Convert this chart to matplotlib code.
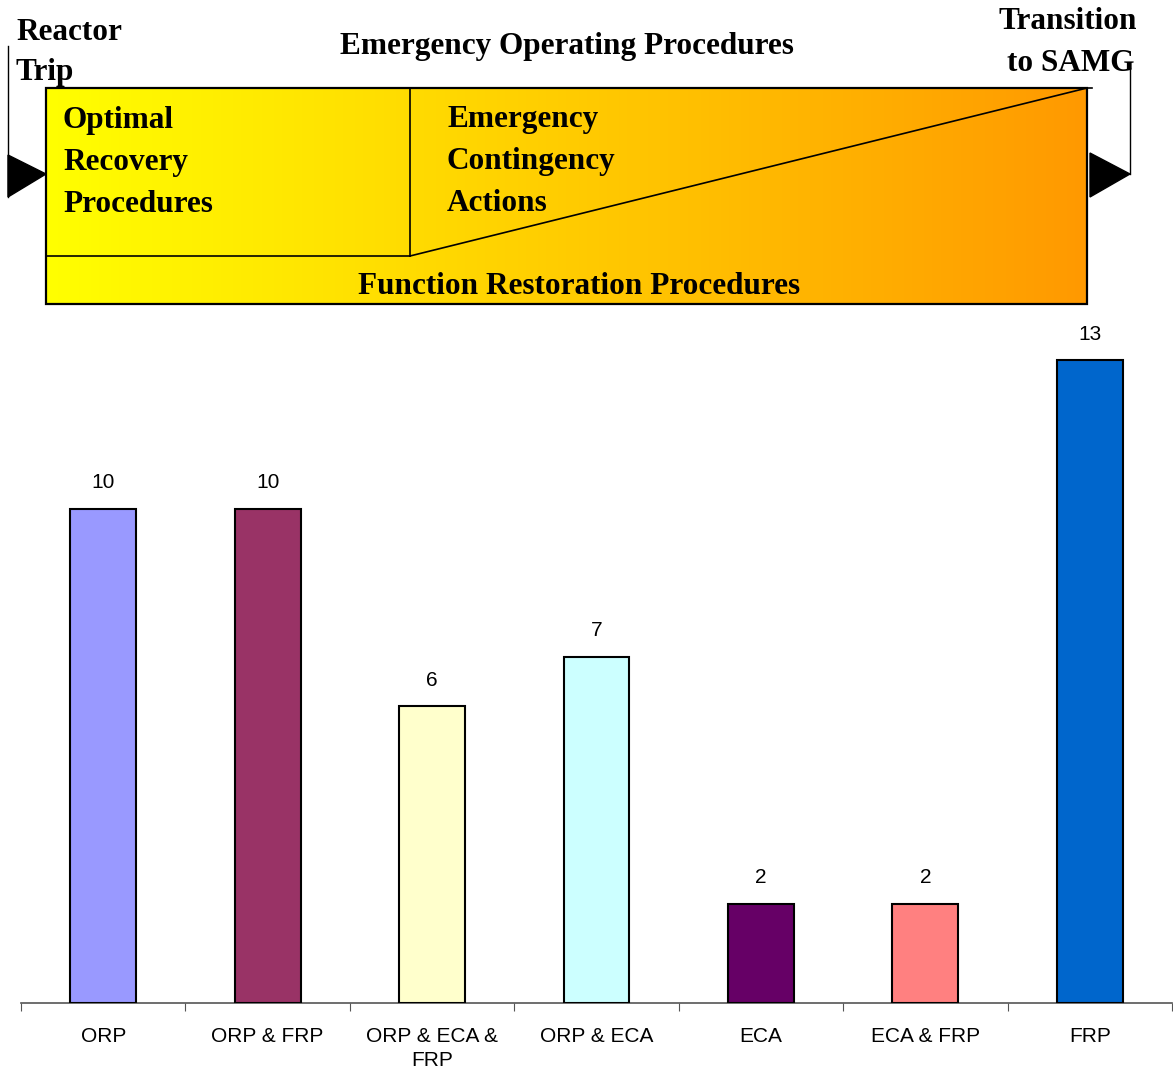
import numpy as np
import matplotlib
matplotlib.use("Agg")
import matplotlib.pyplot as plt
from matplotlib.patches import Rectangle, Polygon
from matplotlib.colors import LinearSegmentedColormap

# procedure groups and counts
categories = ["ORP", "ORP & FRP", "ORP & ECA &\nFRP", "ORP & ECA", "ECA", "ECA & FRP", "FRP"]
counts = [10, 10, 6, 7, 2, 2, 13]
bar_colors = ["#9999FF", "#993366", "#FFFFCC", "#CCFFFF", "#660066", "#FF8080", "#0066CC"]

W, H = 1173, 1077
fig = plt.figure(figsize=(W / 100, H / 100), dpi=100)

# ---------------- diagram on top (pixel coords) ----------------
top = fig.add_axes([0, 0, 1, 1])
top.set_xlim(0, W)
top.set_ylim(H, 0)
top.axis("off")

bx0, bx1, by0, by1 = 46, 1087, 88, 304
grad = LinearSegmentedColormap.from_list("yo", ["#FFFF00", "#FF9900"])
img = top.imshow(np.linspace(0, 1, 256).reshape(1, -1), cmap=grad, aspect="auto",
                 extent=(bx0, bx1, by1, by0), zorder=1)
box = Rectangle((bx0, by0), bx1 - bx0, by1 - by0, fill=False, ec="black", lw=1.6, zorder=3)
top.add_patch(box)
img.set_clip_path(box)
top.set_xlim(0, W)
top.set_ylim(H, 0)

# inner lines
top.plot([410, 410], [by0, 256], color="black", lw=1.2, zorder=3)
top.plot([bx0, 410], [256, 256], color="black", lw=1.2, zorder=3)
top.plot([410, bx1], [256, by0], color="black", lw=1.2, zorder=3)
top.plot([bx1, 1092], [by0, by0], color="black", lw=1.2, zorder=3)

# entry / exit arrows
top.plot([8, 8], [46, 197], color="black", lw=1.0, zorder=3)
top.add_patch(Polygon([[8, 155], [8, 197], [46, 174]], closed=True, fc="black", ec="black", zorder=4))
top.plot([1130, 1130], [68, 174], color="black", lw=1.0, zorder=3)
top.add_patch(Polygon([[1090, 153], [1090, 197], [1130, 174]], closed=True, fc="black", ec="black", zorder=4))

serif = dict(family="Liberation Serif", weight="bold", fontsize=22.5, color="black", zorder=5)
top.text(16, 40, "Reactor", ha="left", va="baseline", **serif)
top.text(16, 80, "Trip", ha="left", va="baseline", **serif)
top.text(567, 54, "Emergency Operating Procedures", ha="center", va="baseline", **serif)
top.text(1068, 29, "Transition", ha="center", va="baseline", **serif)
top.text(1071, 71, "to SAMG", ha="center", va="baseline", **serif)
for i, s in enumerate(["Optimal", "Recovery", "Procedures"]):
    top.text(63, 128 + 42 * i, s, ha="left", va="baseline", **serif)
for i, s in enumerate(["Emergency", "Contingency", "Actions"]):
    top.text(447, 127 + 42 * i, s, ha="left", va="baseline", **serif)
top.text(579, 294, "Function Restoration Procedures", ha="center", va="baseline", **serif)

# ---------------- bar chart ----------------
ax = fig.add_axes([21 / W, (H - 1003) / H, 1151 / W, (1003 - 311) / H])
x = np.arange(len(categories))
bars = ax.bar(x, counts, width=0.4, color=bar_colors, edgecolor="black", linewidth=1.5, zorder=3)
for b, v in zip(bars, counts):
    ax.annotate(str(v), (b.get_x() + b.get_width() / 2, v), xytext=(0, 15),
                textcoords="offset points", ha="center", va="baseline",
                fontsize=15, family="Liberation Sans")

ax.set_xlim(-0.5, len(categories) - 0.5)
ax.set_ylim(0, 14)
ax.set_yticks([])
for side in ["left", "right", "top"]:
    ax.spines[side].set_visible(False)
ax.spines["bottom"].set_color("#555555")
ax.spines["bottom"].set_linewidth(1.2)
ax.set_xticks(np.arange(len(categories) + 1) - 0.5)
ax.set_xticklabels([])
ax.set_xticks(x, minor=True)
ax.set_xticklabels(categories, minor=True, fontsize=15, family="Liberation Sans",
                   linespacing=1.35)
ax.tick_params(axis="x", which="major", direction="out", length=6, color="#555555")
ax.tick_params(axis="x", which="minor", length=0, pad=17)
ax.patch.set_alpha(0)

fig.savefig("out.png", dpi=100)
